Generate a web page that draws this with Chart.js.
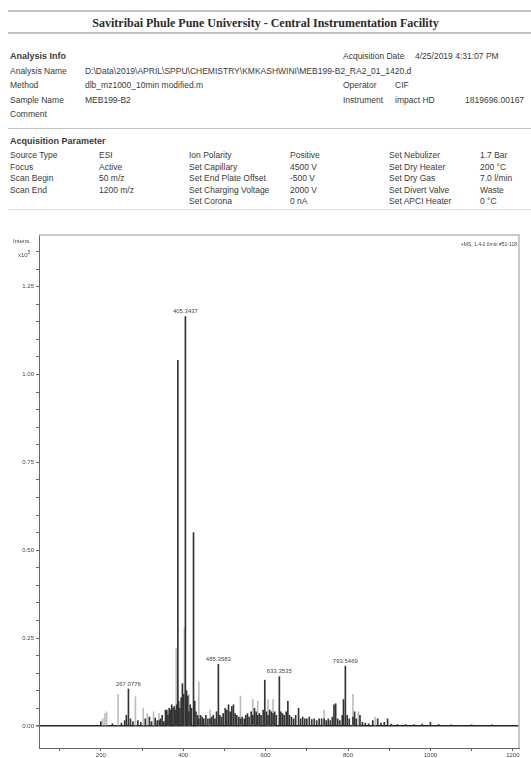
<!DOCTYPE html>
<html><head><meta charset="utf-8">
<script src="https://cdn.jsdelivr.net/npm/chart.js@4/dist/chart.umd.min.js"></script>
<style>
body{margin:0;width:531px;height:758px;overflow:hidden;background:#fff;font-family:"Liberation Sans",Arial,sans-serif;color:#3a3a3a;position:relative}
.t{position:absolute;white-space:nowrap;font-size:8.5px;line-height:9px}
.b{font-weight:bold;font-size:9px}
.hr{position:absolute;left:8px;right:0;background:#c4c4c4}
#title{position:absolute;left:0;width:531px;top:16px;text-align:center;font-family:"Liberation Serif","Times New Roman",serif;font-weight:bold;font-size:12px;line-height:14px;color:#2a2a2a}
#wrap{position:absolute;left:0;top:225px;width:531px;height:533px}
.sm{position:absolute;white-space:nowrap;font-size:6px;line-height:7px;color:#444}
</style></head>
<body>
<div class="hr" style="top:10px;height:2px"></div>
<div id="title">Savitribai Phule Pune University - Central Instrumentation Facility</div>
<div class="hr" style="top:32px;height:2px"></div>

<div class="t b" style="left:10px;top:52px">Analysis Info</div>
<div class="t" style="left:343px;top:52px">Acquisition Date</div>
<div class="t" style="left:415px;top:52px">4/25/2019 4:31:07 PM</div>
<div class="t" style="left:10px;top:67px">Analysis Name</div>
<div class="t" style="left:85px;top:67px">D:\Data\2019\APRIL\SPPU\CHEMISTRY\KMKASHWINI\MEB199-B2_RA2_01_1420.d</div>
<div class="t" style="left:10px;top:81px">Method</div>
<div class="t" style="left:85px;top:81px">dlb_mz1000_10min modified.m</div>
<div class="t" style="left:343px;top:81px">Operator</div>
<div class="t" style="left:395px;top:81px">CIF</div>
<div class="t" style="left:10px;top:96px">Sample Name</div>
<div class="t" style="left:85px;top:96px">MEB199-B2</div>
<div class="t" style="left:343px;top:96px">Instrument</div>
<div class="t" style="left:395px;top:96px">impact HD</div>
<div class="t" style="left:465px;top:96px">1819696.00167</div>
<div class="t" style="left:10px;top:110px">Comment</div>
<div class="hr" style="top:128px;height:1px"></div>

<div class="t b" style="left:10px;top:137px">Acquisition Parameter</div>
<div class="t" style="left:10px;top:151px">Source Type</div><div class="t" style="left:99px;top:151px">ESI</div>
<div class="t" style="left:189px;top:151px">Ion Polarity</div><div class="t" style="left:290px;top:151px">Positive</div>
<div class="t" style="left:389px;top:151px">Set Nebulizer</div><div class="t" style="left:480px;top:151px">1.7 Bar</div>
<div class="t" style="left:10px;top:162.5px">Focus</div><div class="t" style="left:99px;top:162.5px">Active</div>
<div class="t" style="left:189px;top:162.5px">Set Capillary</div><div class="t" style="left:290px;top:162.5px">4500 V</div>
<div class="t" style="left:389px;top:162.5px">Set Dry Heater</div><div class="t" style="left:480px;top:162.5px">200 °C</div>
<div class="t" style="left:10px;top:174px">Scan Begin</div><div class="t" style="left:99px;top:174px">50 m/z</div>
<div class="t" style="left:189px;top:174px">Set End Plate Offset</div><div class="t" style="left:290px;top:174px">-500 V</div>
<div class="t" style="left:389px;top:174px">Set Dry Gas</div><div class="t" style="left:480px;top:174px">7.0 l/min</div>
<div class="t" style="left:10px;top:185.5px">Scan End</div><div class="t" style="left:99px;top:185.5px">1200 m/z</div>
<div class="t" style="left:189px;top:185.5px">Set Charging Voltage</div><div class="t" style="left:290px;top:185.5px">2000 V</div>
<div class="t" style="left:389px;top:185.5px">Set Divert Valve</div><div class="t" style="left:480px;top:185.5px">Waste</div>
<div class="t" style="left:189px;top:197px">Set Corona</div><div class="t" style="left:290px;top:197px">0 nA</div>
<div class="t" style="left:389px;top:197px">Set APCI Heater</div><div class="t" style="left:480px;top:197px">0 °C</div>
<div class="hr" style="top:209px;height:1px;background:#ddd"></div>

<div id="wrap"><canvas id="c" width="531" height="533"></canvas></div>
<div class="sm" style="left:13px;top:238px">Intens.</div>
<div class="sm" style="left:18px;top:249px">x10<sup style="font-size:4.5px;vertical-align:3px">5</sup></div>
<div class="sm" style="right:14px;top:241px;font-size:5px">+MS, 1.4-2.0min #51-118</div>

<script>
// ---- data (m/z, intensity x10^5) ----
const darkMz = [200,228,250,258,262,267.0776,272,278,290,297,308,318,323,332,337,342,345,349,353,357,360,363,366,369,372,375,378,381,384,387,389,392,395,398,401,405.3437,408,411,414,417,420,425,428,431,435,438,442,446,450,455,460,465,469,473,477,481,485.3583,489,493,497,502,506,510,514,518,522,526,530,535,539,543,548,552,556,560,565,569,573,577,581,585,589,594,598,602,606,610,614,618,622,626,633.3535,637,641,645,650,654,658,663,668,673,680,685,690,695,700,706,712,718,724,730,736,742,747,752,757,762,766,770,775,780,786,789,793.5469,798,803,812,816,820,829,835,842,850,860,872,880,888,896,905,920,940,960,980,1000,1020,1050,1100,1150];
const darkInt = [0.012,0.006,0.008,0.015,0.03,0.105,0.02,0.012,0.015,0.01,0.02,0.025,0.012,0.022,0.015,0.015,0.02,0.03,0.012,0.045,0.045,0.03,0.05,0.045,0.06,0.05,0.055,0.045,0.06,1.04,0.07,0.05,0.08,0.12,0.09,1.165,0.1,0.085,0.04,0.06,0.05,0.55,0.07,0.04,0.03,0.02,0.03,0.025,0.02,0.03,0.02,0.02,0.025,0.03,0.02,0.04,0.175,0.03,0.025,0.035,0.05,0.045,0.06,0.04,0.055,0.06,0.035,0.03,0.025,0.02,0.025,0.02,0.03,0.035,0.025,0.04,0.03,0.05,0.04,0.03,0.035,0.03,0.045,0.13,0.04,0.03,0.045,0.04,0.035,0.04,0.03,0.14,0.04,0.035,0.03,0.04,0.07,0.03,0.025,0.02,0.03,0.05,0.02,0.025,0.02,0.02,0.025,0.018,0.02,0.015,0.02,0.02,0.02,0.015,0.02,0.015,0.025,0.06,0.063,0.02,0.015,0.03,0.075,0.17,0.03,0.02,0.025,0.04,0.02,0.03,0.01,0.008,0.006,0.015,0.02,0.008,0.01,0.02,0.005,0.004,0.004,0.004,0.005,0.01,0.004,0.003,0.003,0.003];
const grayMz = [205,210,214,242,284,303,313,328,341,363,383,403,414,438,465,539,569,581,606,618,742,812,825,866];
const grayInt = [0.02,0.035,0.04,0.09,0.083,0.05,0.035,0.04,0.035,0.04,0.22,0.28,0.09,0.125,0.045,0.085,0.075,0.07,0.075,0.075,0.045,0.09,0.04,0.025];
const peakLabels = ["267.0776","405.3437","485.3583","633.3535","793.5469"];
const peakLabelMz = [267.0776,405.3437,485.3583,633.3535,793.5469];
const xTickValues = [100,200,300,400,500,600,700,800,900,1000,1100,1200];
const yTickValues = [0,0.05,0.10,0.15,0.20,0.25,0.30,0.35,0.40,0.45,0.50,0.55,0.60,0.65,0.70,0.75,0.80,0.85,0.90,0.95,1.00,1.05,1.10,1.15,1.20,1.25,1.30,1.35];

const toPts = (xs, ys) => xs.map((x, i) => ({x: x, y: ys[i]}));

const framePlugin = {
  id: 'frame',
  afterDatasetsDraw(chart) {
    const a = chart.chartArea, ctx = chart.ctx;
    ctx.save();
    ctx.strokeStyle = '#b8b8b8'; ctx.lineWidth = 1.5;
    ctx.beginPath();
    ctx.moveTo(a.left, a.top); ctx.lineTo(a.right, a.top); ctx.lineTo(a.right, a.bottom);
    ctx.stroke();
    const xs = chart.scales.x, ys = chart.scales.y;
    ctx.fillStyle = '#444';
    ctx.font = '6px "Liberation Sans", Arial, sans-serif';
    ctx.textAlign = 'center'; ctx.textBaseline = 'bottom';
    peakLabelMz.forEach((mz, i) => {
      const idx = darkMz.indexOf(mz);
      const px = xs.getPixelForValue(mz);
      const py = ys.getPixelForValue(darkInt[idx]);
      ctx.fillText(peakLabels[i], px, py - 2);
    });
    ctx.restore();
  }
};

new Chart(document.getElementById('c'), {
  type: 'bar',
  data: {
    datasets: [
      {data: toPts(darkMz, darkInt), backgroundColor: '#333333', barThickness: 1, borderWidth: 0, grouped: false, order: 0},
      {data: toPts(grayMz, grayInt), backgroundColor: '#bdbdbd', barThickness: 1, borderWidth: 0, grouped: false, order: 1}
    ]
  },
  options: {
    responsive: false, animation: false, events: [],
    layout: {padding: {left: 0, right: 12, top: 10, bottom: 0}},
    plugins: {legend: {display: false}, tooltip: {enabled: false}},
    scales: {
      x: {
        type: 'linear', min: 50, max: 1215, offset: false,
        grid: {offset: false, drawOnChartArea: false, drawTicks: true, tickLength: 3, tickColor: '#666'},
        border: {display: true, color: '#666', width: 1},
        afterBuildTicks: s => { s.ticks = xTickValues.map(v => ({value: v})); },
        afterFit: s => { s.height = 10; },
        ticks: {autoSkip: false, maxRotation: 0, padding: 1, color: '#444',
          font: {size: 6, family: '"Liberation Sans", Arial, sans-serif'},
          callback: v => (v % 200 === 0 ? String(v) : '')}
      },
      y: {
        type: 'linear', min: -0.063, max: 1.397,
        grid: {drawOnChartArea: true, drawTicks: true, tickLength: 3, tickColor: '#666',
          color: c => (c.tick && Math.abs(c.tick.value) < 1e-9 ? '#222' : 'rgba(0,0,0,0)'),
          lineWidth: c => (c.tick && Math.abs(c.tick.value) < 1e-9 ? 1.5 : 1)},
        border: {display: true, color: '#666', width: 1},
        afterBuildTicks: s => { s.ticks = yTickValues.map(v => ({value: v})); },
        afterFit: s => { s.width = 39; },
        ticks: {autoSkip: false, padding: 2, color: '#444',
          font: {size: 6, family: '"Liberation Sans", Arial, sans-serif'},
          callback: v => (Math.abs(v / 0.25 - Math.round(v / 0.25)) < 1e-6 ? v.toFixed(2) : '')}
      }
    }
  },
  plugins: [framePlugin]
});
</script>
</body></html>
